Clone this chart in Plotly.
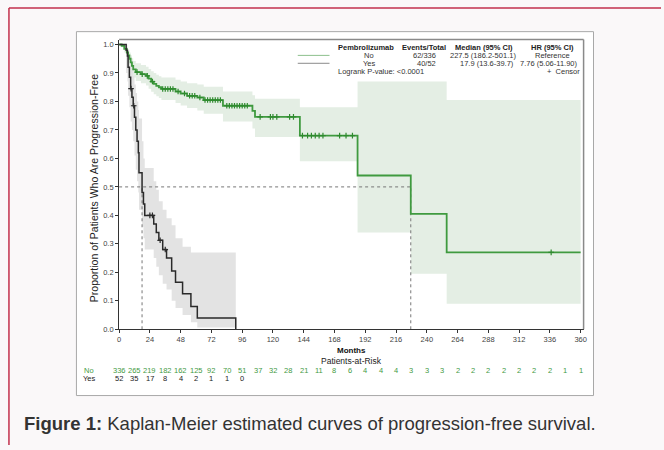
import plotly.graph_objects as go

# ---------------- data ----------------
no_t = [0, 2, 4, 6, 7, 8, 9, 10, 11, 13, 17, 21, 23, 25, 27, 29, 31, 33, 44, 48, 53, 61, 66, 81, 104, 106, 141, 186, 227.5, 255.5, 360]
no_s = [1.0, 0.995, 0.985, 0.972, 0.962, 0.95, 0.937, 0.925, 0.913, 0.903, 0.896, 0.89, 0.88, 0.87, 0.862, 0.855, 0.85, 0.844, 0.835, 0.828, 0.82, 0.814, 0.805, 0.785, 0.767, 0.746, 0.68, 0.54, 0.405, 0.27, 0.27]
no_lo = [1.0, 0.99, 0.972, 0.955, 0.942, 0.928, 0.913, 0.898, 0.884, 0.872, 0.864, 0.856, 0.845, 0.834, 0.825, 0.818, 0.812, 0.805, 0.795, 0.786, 0.777, 0.768, 0.757, 0.73, 0.705, 0.675, 0.59, 0.34, 0.195, 0.09, 0.09]
no_hi = [1.0, 1.0, 0.995, 0.987, 0.98, 0.972, 0.962, 0.952, 0.942, 0.934, 0.928, 0.922, 0.914, 0.906, 0.9, 0.894, 0.889, 0.884, 0.876, 0.87, 0.864, 0.86, 0.852, 0.835, 0.822, 0.81, 0.78, 0.87, 0.87, 0.805, 0.805]
no_censor = [14, 18, 22, 26, 34, 36, 38, 40, 42, 46, 51, 55, 57, 59, 63, 67, 69, 71, 73, 75, 77, 79, 84, 86, 88, 90, 92, 94, 96, 98, 100, 110, 118, 120, 123, 133, 136, 143, 147, 150, 153, 156, 159, 172, 177, 182, 337]

yes_t = [0, 5.5, 6.5, 7, 8, 9, 10, 11, 12, 13, 14, 15, 15.5, 17.9, 19, 20, 27, 29, 31, 34, 37, 41, 44, 49.5, 56, 61, 91]
yes_s = [1.0, 0.98, 0.96, 0.92, 0.885, 0.845, 0.815, 0.785, 0.745, 0.70, 0.66, 0.62, 0.55, 0.48, 0.44, 0.40, 0.37, 0.34, 0.3125, 0.28, 0.25, 0.205, 0.165, 0.125, 0.08, 0.04, 0.0]
yes_lo = [1.0, 0.90, 0.87, 0.82, 0.78, 0.73, 0.70, 0.66, 0.61, 0.56, 0.52, 0.48, 0.42, 0.36, 0.32, 0.28, 0.25, 0.22, 0.19, 0.16, 0.14, 0.10, 0.075, 0.05, 0.025, 0.006, 0.0]
yes_hi = [1.0, 1.0, 0.99, 0.97, 0.95, 0.93, 0.91, 0.89, 0.86, 0.83, 0.80, 0.77, 0.74, 0.66, 0.60, 0.566, 0.52, 0.49, 0.45, 0.42, 0.39, 0.365, 0.32, 0.29, 0.27, 0.27, 0.27]
yes_censor = [9.3, 11.4, 24, 26, 32, 36]

median_no = 227.5
median_yes = 17.9

x_ticks = [0, 24, 48, 72, 96, 120, 144, 168, 192, 216, 240, 264, 288, 312, 336, 360]
y_ticks = [0.0, 0.1, 0.2, 0.3, 0.4, 0.5, 0.6, 0.7, 0.8, 0.9, 1.0]

risk_times = [0, 12, 24, 36, 48, 60, 72, 84, 96, 108, 120, 132, 144, 156, 168, 180, 192, 204,
              216, 228, 240, 252, 264, 276, 288, 300, 312, 324, 336, 348, 360]
risk_no = [336, 265, 219, 182, 162, 125, 92, 70, 51, 37, 32, 28, 21, 11, 8, 6, 4, 4, 4, 3, 3, 3,
           2, 2, 2, 2, 2, 2, 2, 1, 1]
risk_yes = [52, 35, 17, 8, 4, 2, 1, 1, 0]

legend_header = ["Pembrolizumab", "Events/Total", "Median (95% CI)", "HR (95% CI)"]
legend_no = ["No", "62/336", "227.5 (186.2-501.1)", "Reference"]
legend_yes = ["Yes", "40/52", "17.9 (13.6-39.7)", "7.76 (5.06-11.90)"]
logrank_text = "Logrank P-value: <0.0001"
caption_bold = "Figure 1:"
caption_rest = " Kaplan-Meier estimated curves of progression-free survival."

# ---------------- styling ----------------
W, H = 664, 450
FONT = "Liberation Sans, Arial, Helvetica, sans-serif"
GREEN = "#3f9a3f"
GREEN_BAND = "#e4eee4"
DARK = "#2a2a2a"
GRAY_BAND = "#e3e3e3"


def px(x):
    return x / W


def py(y):
    return 1 - y / H


def step_value(ts, ss, t):
    v = ss[0]
    for ti, si in zip(ts, ss):
        if ti <= t:
            v = si
    return v


fig = go.Figure()

# CI bands
fig.add_trace(go.Scatter(x=no_t, y=no_lo, mode="lines", line=dict(width=0, shape="hv"),
                         hoverinfo="skip", showlegend=False))
fig.add_trace(go.Scatter(x=no_t, y=no_hi, mode="lines", line=dict(width=0, shape="hv"),
                         fill="tonexty", fillcolor=GREEN_BAND, hoverinfo="skip", showlegend=False))
fig.add_trace(go.Scatter(x=yes_t, y=yes_lo, mode="lines", line=dict(width=0, shape="hv"),
                         hoverinfo="skip", showlegend=False))
fig.add_trace(go.Scatter(x=yes_t, y=yes_hi, mode="lines", line=dict(width=0, shape="hv"),
                         fill="tonexty", fillcolor=GRAY_BAND, hoverinfo="skip", showlegend=False))

# reference dotted lines at median
fig.add_trace(go.Scatter(x=[0, median_no], y=[0.5, 0.5], mode="lines",
                         line=dict(color="#777", width=1, dash="dot"), showlegend=False))
fig.add_trace(go.Scatter(x=[median_yes, median_yes], y=[0, 0.5], mode="lines",
                         line=dict(color="#777", width=1, dash="dot"), showlegend=False))
fig.add_trace(go.Scatter(x=[median_no, median_no], y=[0, 0.5], mode="lines",
                         line=dict(color="#777", width=1, dash="dot"), showlegend=False))

# survival curves
fig.add_trace(go.Scatter(x=no_t, y=no_s, mode="lines", line=dict(color=GREEN, width=1.8, shape="hv"),
                         showlegend=False))
fig.add_trace(go.Scatter(x=yes_t, y=yes_s, mode="lines", line=dict(color=DARK, width=1.5, shape="hv"),
                         showlegend=False))

# censor marks
fig.add_trace(go.Scatter(x=no_censor, y=[step_value(no_t, no_s, t) for t in no_censor], mode="markers",
                         marker=dict(symbol="cross-thin", size=4, line=dict(width=1.2, color="#2f8a2f")),
                         showlegend=False))
fig.add_trace(go.Scatter(x=yes_censor, y=[step_value(yes_t, yes_s, t) for t in yes_censor], mode="markers",
                         marker=dict(symbol="cross-thin", size=4, line=dict(width=1.2, color=DARK)),
                         showlegend=False))

shapes = []
# red page border (top and left)
shapes.append(dict(type="line", xref="paper", yref="paper", x0=px(7), x1=1.0, y0=py(8), y1=py(8),
                   line=dict(color="#c2304c", width=1.5), layer="below"))
shapes.append(dict(type="line", xref="paper", yref="paper", x0=px(7), x1=px(7), y0=py(8), y1=0,
                   line=dict(color="#c2304c", width=1.5), layer="below"))
# figure image box
shapes.append(dict(type="rect", xref="paper", yref="paper", x0=px(75), x1=px(596), y0=py(400), y1=py(32),
                   fillcolor="white", line=dict(color="#a8a8a8", width=1), layer="below"))
# plot frame (top/right gray)
shapes.append(dict(type="line", xref="paper", yref="paper", x0=px(118), x1=px(586), y0=py(40), y1=py(40),
                   line=dict(color="#8a8a8a", width=1.5)))
shapes.append(dict(type="line", xref="paper", yref="paper", x0=px(586), x1=px(586), y0=py(40), y1=py(333),
                   line=dict(color="#8a8a8a", width=1.5)))
# legend line samples
shapes.append(dict(type="line", xref="paper", yref="paper", x0=px(298), x1=px(330), y0=py(56), y1=py(56),
                   line=dict(color="#8cc08c", width=1)))
shapes.append(dict(type="line", xref="paper", yref="paper", x0=px(298), x1=px(330), y0=py(64), y1=py(64),
                   line=dict(color="#8a8a8a", width=1)))

ann = []


def text(x, y, s, size=7.5, color="#333", xanchor="center", bold=False, xref="paper"):
    ann.append(dict(x=(px(x) if xref == "paper" else x), y=py(y), xref=xref, yref="paper",
                    text=("<b>%s</b>" % s if bold else s), showarrow=False,
                    font=dict(family=FONT, size=size, color=color),
                    xanchor=xanchor, yanchor="middle", borderpad=0))


# legend table
hdr_x = [367, 425, 486, 555]
for s, x in zip(legend_header, hdr_x):
    text(x, 48, s, size=7.5, bold=True, color="#222")
text(370, 56, legend_no[0])
text(438, 56, legend_no[1], xanchor="right")
text(485, 56, legend_no[2])
text(555, 56, legend_no[3])
text(370, 64, legend_yes[0])
text(438, 64, legend_yes[1], xanchor="right")
text(517, 64, legend_yes[2], xanchor="right")
text(551, 64, legend_yes[3])
text(338, 72, logrank_text, xanchor="left")
text(583, 72, "+  Censor", xanchor="right")

# axis titles
ann.append(dict(x=px(93), y=py(190), xref="paper", yref="paper", text="Proportion of Patients Who Are Progression-Free",
                showarrow=False, textangle=-90, font=dict(family=FONT, size=10.5, color="#222"),
                xanchor="center", yanchor="middle"))
text(352, 354.5, "Months", size=8, bold=True, color="#111")
text(352, 365, "Patients-at-Risk", size=8.5, color="#222")

# risk table
text(88, 374.5, "No", color=GREEN)
text(88, 382.5, "Yes", color="#222")
for t, v in zip(risk_times, risk_no):
    text(t, 374.5, str(v), color=GREEN, xref="x")
for t, v in zip(risk_times, risk_yes):
    text(t, 382.5, str(v), color="#222", xref="x")

# caption
ann.append(dict(x=px(20), y=py(428), xref="paper", yref="paper",
                text="<b>%s</b>%s" % (caption_bold, caption_rest), showarrow=False,
                font=dict(family=FONT, size=18.5, color="#333"), xanchor="left", yanchor="middle"))

fig.update_layout(
    width=W, height=H, margin=dict(l=0, r=0, t=0, b=0),
    paper_bgcolor="#faf8f9", plot_bgcolor="rgba(0,0,0,0)",
    showlegend=False,
    shapes=shapes, annotations=ann,
    xaxis=dict(domain=[px(118), px(586)], range=[0, 362.3], tickvals=x_ticks,
               ticktext=[str(v) for v in x_ticks], showgrid=False, zeroline=False,
               showline=True, linecolor="#333", linewidth=1, ticks="outside", ticklen=3,
               tickcolor="#333", tickfont=dict(family=FONT, size=7.5, color="#444")),
    yaxis=dict(domain=[py(333), py(40)], range=[0, 1.0174], tickvals=y_ticks,
               ticktext=["%.1f" % v for v in y_ticks], showgrid=False, zeroline=False,
               showline=True, linecolor="#333", linewidth=1, ticks="outside", ticklen=3,
               tickcolor="#333", tickfont=dict(family=FONT, size=7.5, color="#444")),
)

fig.write_html("out.html", config={"displayModeBar": False},
               post_script="document.body.style.margin='0';document.body.style.padding='0';document.body.style.overflow='hidden';")
